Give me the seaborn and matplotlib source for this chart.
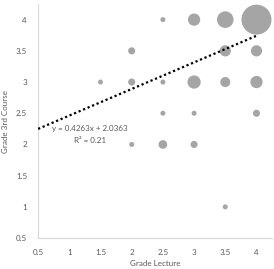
import numpy as np
import pandas as pd
import matplotlib.pyplot as plt
import seaborn as sns

sns.set_theme(style="white")
plt.rcParams['font.family'] = ['Lato', 'DejaVu Sans']

# bubble data: lecture grade, 3rd course grade, number of students
lecture = [1.5, 2, 2, 2, 2.5, 2.5, 2.5, 2.5, 3, 3, 3, 3, 3.5, 3.5, 3.5, 3.5, 4, 4, 4, 4]
course3 = [3, 3.5, 3, 2, 4, 3, 2.5, 2, 4, 3, 2.5, 2, 4, 3.5, 3, 1, 4, 3.5, 3, 2.5]
count = [1, 2, 2, 1, 1, 1, 1, 3, 6, 7, 1, 2, 11, 5, 4, 1, 36, 5, 6, 2]

# trendline from the reference
slope, intercept = 0.4263, 2.0363
r2 = 0.21

df = pd.DataFrame({'lecture': lecture, 'course3': course3, 'count': count})

fig = plt.figure(figsize=(2.74, 2.69), dpi=100)
ax = fig.add_axes([0.139, 0.115, 0.854, 0.87])

sns.scatterplot(data=df, x='lecture', y='course3', size='count',
                sizes=(13, 466), size_norm=(1, 36), color='#a5a5a5',
                edgecolor='none', legend=False, ax=ax, zorder=2)

tx = np.array([0.5, 4.0])
ax.plot(tx, slope * tx + intercept, linestyle=(0, (1, 1.2)), color='black',
        linewidth=1.6, zorder=3)

ax.text(0.73, 2.26, f'y = {slope}x + {intercept}', fontsize=5.8,
        color='#595959', ha='left', va='center')
ax.text(1.33, 2.06, f'R² = {r2}', fontsize=5.8, color='#595959',
        ha='center', va='center')

ax.set_xlim(0.5, 4.25)
ax.set_ylim(0.5, 4.25)
ax.set_xticks(np.arange(0.5, 4.01, 0.5))
ax.set_yticks(np.arange(0.5, 4.01, 0.5))
ax.set_xticklabels(['0.5', '1', '1.5', '2', '2.5', '3', '3.5', '4'])
ax.set_yticklabels(['0.5', '1', '1.5', '2', '2.5', '3', '3.5', '4'])
ax.tick_params(axis='x', labelsize=5.8, colors='#595959', length=0, pad=8)
ax.tick_params(axis='y', labelsize=5.8, colors='#595959', length=0, pad=8)
ax.set_xlabel('Grade Lecture', fontsize=5.8, color='#595959', labelpad=3)
ax.set_ylabel('Grade 3rd Course', fontsize=5.8, color='#595959', labelpad=5)

for s in ['top', 'right']:
    ax.spines[s].set_visible(False)
for s in ['left', 'bottom']:
    ax.spines[s].set_color('#d9d9d9')
    ax.spines[s].set_linewidth(0.8)

fig.savefig('out.png', dpi=100)
